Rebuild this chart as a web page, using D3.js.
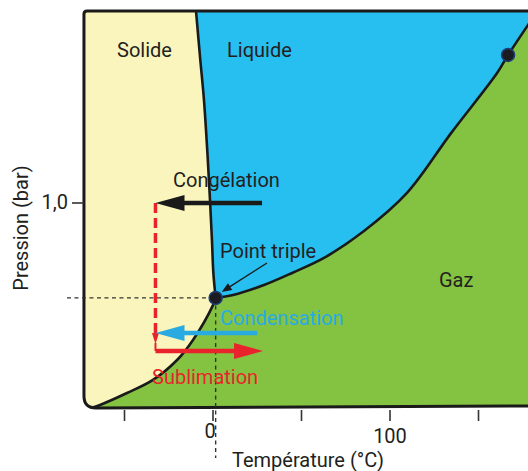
<!DOCTYPE html>
<html><head><meta charset="utf-8">
<script src="https://cdn.jsdelivr.net/npm/d3@7"></script>
<style>html,body{margin:0;padding:0;background:#fff;}svg{display:block;}text{font-family:Roboto,"Liberation Sans",sans-serif;}</style>
</head><body>
<script>
// ---- data (temperature °C, pressure in schematic bar units) ----
const tempTicks = [-50, 0, 50, 100, 150];
const tempTickLabels = ["", "0", "", "100", ""];
const pressureTicks = [1.0];
const pressureTickLabels = ["1,0"];
const frameTemp = [-72.9, 182];
const framePressure = [0, 1.937];
const triplePoint = [1.5, 0.537];
const criticalPoint = [166.7, 1.722];
const solidLiquid = [[-9.6,1.937],[-7.2,1.70],[-5.1,1.502],[-3.2,1.25],[-1.7,1.015],[-0.6,0.82],[0.2,0.659],[1.5,0.537]];
const liquidGas = [[1.5,0.537],[11.3,0.551],[28.8,0.60],[45,0.66],[62.7,0.732],[85.3,0.863],[109.6,1.049],[134.5,1.341],[160.5,1.634],[166.7,1.722],[182,1.92]];
const solidGas = [[1.5,0.537],[0,0.502],[-11.3,0.332],[-20.3,0.234],[-33.9,0.137],[-48.6,0.073],[-63.8,0.015],[-69,0]];
const processNames = ["Congélation", "Condensation", "Sublimation"];
const processFrom = [[27.7,1.0],[25,0.366],[-32.5,0.278]];
const processTo = [[-32.5,1.0],[-32.5,0.366],[28.3,0.278]];
const processColors = ["#1a1a1a", "#29abe2", "#e8232b"];
const phaseNames = ["Solide", "Liquide", "Gaz"];

const W = 528, H = 471;
const svg = d3.select("body").append("svg").attr("width", W).attr("height", H);
const x = d3.scaleLinear().domain([0, 100]).range([213, 390]);
const y = d3.scaleLinear().domain([0, 1]).range([408, 203]);
const line = d3.line().x(d => x(d[0])).y(d => y(d[1])).curve(d3.curveCatmullRom.alpha(0.5));

const x0 = x(frameTemp[0]), x1 = x(frameTemp[1]);
const yT = y(framePressure[1]), yB = y(framePressure[0]);
const framePath = `M${x0},${yT+3}Q${x0},${yT} ${x0+3},${yT}L${x1},${yT}L${x1},${yB-2}L${x0+12},${yB}Q${x0},${yB} ${x0},${yB-12}Z`;

svg.append("clipPath").attr("id","fc").append("path").attr("d", framePath);
const g = svg.append("g").attr("clip-path","url(#fc)");
// solid background
g.append("path").attr("d", framePath).attr("fill", "#faf5bd");
// liquid region
const liqD = line(solidLiquid) + line(liquidGas).replace(/^M/, "L") +
  `L${x(190)},${y(1.92)}L${x(190)},${y(2.2)}L${x(-12)},${y(2.2)}Z`;
g.append("path").attr("d", liqD).attr("fill", "#27bef0");
// gas region
const gasD = line(solidGas.slice().reverse()) + line(liquidGas).replace(/^M/, "L") +
  `L${x(190)},${y(1.92)}L${x(190)},${y(-0.2)}L${x(-69)},${y(-0.2)}Z`;
g.append("path").attr("d", gasD).attr("fill", "#84c341");
// boundaries
[solidLiquid, liquidGas, solidGas].forEach(c => g.append("path").attr("d", line(c))
  .attr("fill","none").attr("stroke","#1a1a1a").attr("stroke-width",2.6).attr("stroke-linejoin","round"));
// frame
svg.append("path").attr("d", framePath).attr("fill","none").attr("stroke","#1a1a1a").attr("stroke-width",3);

// axes ticks
const tickG = svg.append("g");
tempTicks.forEach((t,i) => {
  tickG.append("line").attr("x1", x(t)).attr("x2", x(t)).attr("y1", yB+2).attr("y2", yB+13)
    .attr("stroke","#333").attr("stroke-width",1.6);
  if (tempTickLabels[i]) tickG.append("text").attr("x", x(t) - (t===0?3:0)).attr("y", t===0?438:443)
    .attr("text-anchor","middle").attr("font-size",20).attr("fill","#231f20").text(tempTickLabels[i]);
});
pressureTicks.forEach((p,i) => {
  tickG.append("line").attr("x1", x0-12).attr("x2", x0).attr("y1", y(p)).attr("y2", y(p))
    .attr("stroke","#333").attr("stroke-width",1.6);
  tickG.append("text").attr("x", x0-16).attr("y", y(p)+6).attr("text-anchor","end")
    .attr("font-size",20).attr("fill","#231f20").text(pressureTickLabels[i]);
});
svg.append("text").attr("x", 308).attr("y", 467).attr("text-anchor","middle")
  .attr("font-size",20).attr("fill","#231f20").text("Température (°C)");
svg.append("text").attr("transform","translate(28,228) rotate(-90)").attr("text-anchor","middle")
  .attr("font-size",20).attr("fill","#231f20").text("Pression (bar)");

// triple point dashed guides
const tx = x(triplePoint[0]), ty = y(triplePoint[1]);
svg.append("line").attr("x1", x0-17).attr("x2", tx).attr("y1", ty).attr("y2", ty)
  .attr("stroke","#333").attr("stroke-width",1.4).attr("stroke-dasharray","4,3.5");
svg.append("line").attr("x1", tx).attr("x2", tx).attr("y1", ty).attr("y2", 458)
  .attr("stroke","#333").attr("stroke-width",1.4).attr("stroke-dasharray","4,3.5");

// red dashed vertical (from congélation end down to sublimation start)
const rx = x(processTo[0][0]);
const redTop = y(processTo[0][1]), redBot = y(processFrom[2][1]);
svg.append("line").attr("x1", rx).attr("x2", rx).attr("y1", redTop).attr("y2", redBot-18)
  .attr("stroke", processColors[2]).attr("stroke-width",3.5).attr("stroke-dasharray","10,5");
svg.append("path").attr("d", `M${rx-3.5},${redBot-18}L${rx+3.5},${redBot-18}L${rx},${redBot-7}Z`).attr("fill", processColors[2]);
svg.append("line").attr("x1", rx).attr("x2", rx).attr("y1", redBot-8).attr("y2", redBot)
  .attr("stroke", processColors[2]).attr("stroke-width",2);

// process arrows
processNames.forEach((n,i) => {
  const fx = x(processFrom[i][0]), fy = y(processFrom[i][1]);
  const ex = x(processTo[i][0]);
  const dir = Math.sign(ex - fx);
  const headLen = 29, half = 8;
  svg.append("line").attr("x1", fx).attr("x2", ex - dir*headLen + dir*2).attr("y1", fy).attr("y2", fy)
    .attr("stroke", processColors[i]).attr("stroke-width", 4.5);
  svg.append("path").attr("d", `M${ex},${fy}L${ex-dir*headLen},${fy-half}L${ex-dir*headLen},${fy+half}Z`)
    .attr("fill", processColors[i]);
});
const labelPos = [[173,187],[220,325],[152,384]];
processNames.forEach((n,i) => {
  svg.append("text").attr("x", labelPos[i][0]).attr("y", labelPos[i][1]).attr("font-size",20)
    .attr("fill", i===0 ? "#231f20" : processColors[i]).text(n);
});

// phase labels
const phasePos = [[117,57],[227,57],[439,287]];
phaseNames.forEach((n,i) => svg.append("text").attr("x", phasePos[i][0]).attr("y", phasePos[i][1])
  .attr("font-size",20).attr("fill","#231f20").text(n));

// point triple label + arrow
svg.append("text").attr("x", 220).attr("y", 258).attr("font-size",20).attr("fill","#231f20").text("Point triple");
const ax1 = 267, ay1 = 263, ax2 = tx + 6, ay2 = ty - 6;
const ang = Math.atan2(ay2-ay1, ax2-ax1);
svg.append("line").attr("x1", ax1).attr("y1", ay1).attr("x2", ax2 - 8*Math.cos(ang)).attr("y2", ay2 - 8*Math.sin(ang))
  .attr("stroke","#1a1a1a").attr("stroke-width",1.3);
svg.append("path").attr("d", `M${ax2},${ay2}L${ax2-10*Math.cos(ang)+4*Math.sin(ang)},${ay2-10*Math.sin(ang)-4*Math.cos(ang)}L${ax2-10*Math.cos(ang)-4*Math.sin(ang)},${ay2-10*Math.sin(ang)+4*Math.cos(ang)}Z`)
  .attr("fill","#1a1a1a");

// triple & critical points
[triplePoint, criticalPoint].forEach(p => svg.append("circle").attr("cx", x(p[0])).attr("cy", y(p[1])).attr("r", 6.5)
  .attr("fill","#1b1b22").attr("stroke","#1d3f7a").attr("stroke-width",1.5));
</script>
</body></html>
